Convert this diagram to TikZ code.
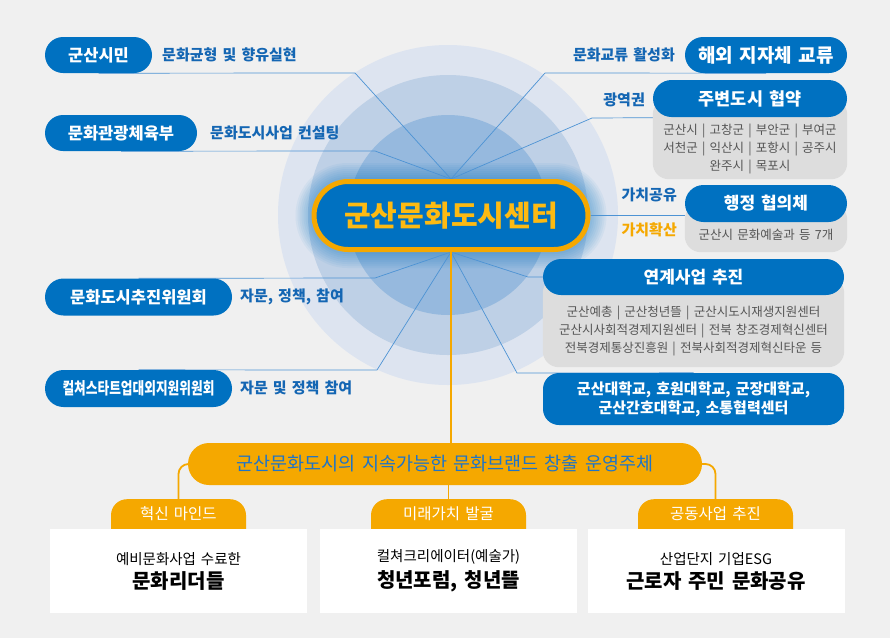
\documentclass[tikz,border=0pt]{standalone}
\usepackage{fontspec}
\setmainfont{Noto Sans CJK KR}[WordSpace=1.5]
\usetikzlibrary{shapes.misc, calc}
\definecolor{pageg}{HTML}{F0F0F0}
\definecolor{pillblue}{HTML}{0071C1}
\definecolor{brand}{HTML}{F5A800}
\definecolor{ctrtext}{HTML}{FDBA12}
\definecolor{lblblue}{HTML}{1466B3}
\definecolor{bannerblue}{HTML}{1E74C8}
\definecolor{linkblue}{HTML}{4D93D4}
\definecolor{ringA}{HTML}{DDE4F0}
\definecolor{ringB}{HTML}{BED0E6}
\definecolor{ringC}{HTML}{96B9DE}
\definecolor{greybg}{HTML}{DDDDDD}
\definecolor{greytext}{HTML}{555555}
\newcommand{\fsz}[2]{\fontsize{#1}{#2}\selectfont}
\pgfdeclarelayer{bg}
\pgfdeclarelayer{mid}
\pgfsetlayers{bg,mid,main}
\tikzset{
  pill/.style    ={rounded rectangle, fill=pillblue, text=white, font=\bfseries\fsz{16.5}{20}, minimum height=36pt, inner sep=0pt},
  lbl/.style     ={font=\bfseries\fsz{15}{18}, text=lblblue, inner sep=0pt},
  greytxt/.style ={font=\fsz{12.5}{18}, text=greytext, align=center, inner sep=0pt},
  link/.style    ={draw=linkblue, line width=0.7pt},              % center -> partner
  trunk/.style   ={draw=brand, line width=1.8pt},                 % center -> operators
  tabhead/.style ={rectangle, rounded corners=16pt, fill=brand, text=white, font=\fsz{15.5}{18}, inner sep=0pt, text height=20pt, text depth=26pt, anchor=north},
  card/.style    ={fill=white, minimum width=257pt, minimum height=84pt, align=center, inner sep=0pt},
}

\begin{document}
\begin{tikzpicture}[x=1pt, y=-1pt]
  \useasboundingbox (0,0) rectangle (890,638);

  % CENTER
  \node[rounded rectangle, fill=pillblue, draw=brand, line width=5pt, minimum width=274pt, minimum height=68pt,
        text=ctrtext, font=\bfseries\fsz{29}{34}, inner sep=0pt] (ccenter) at (451,215.5) {군산문화도시센터};

  % LEFT: citizens, ministry, committees
  \node[pill, minimum width=107pt] (simin) at (98.5,55) {군산시민};
  \node[lbl, anchor=west] (siminlbl) at (162,55) {문화균형 및 향유실현};
  \node[pill, minimum width=152pt] (mcst) at (121,133) {문화관광체육부};
  \node[lbl, anchor=west] (mcstlbl) at (210,133) {문화도시사업 컨설팅};
  \node[pill, minimum width=187pt, minimum height=37pt] (chujin) at (138.5,297) {문화도시추진위원회};
  \node[lbl, anchor=west] (chujinlbl) at (240,297) {자문, 정책, 참여};
  \node[pill, minimum width=187pt, minimum height=37pt] (culture) at (138.5,388.5) {\scalebox{0.77}[1]{컬쳐스타트업대외지원위원회}};
  \node[lbl, anchor=west] (culturelbl) at (240,388) {자문 및 정책 참여};

  % RIGHT: partner cities and organisations
  \node[pill, minimum width=162pt, font=\bfseries\fsz{19}{22}] (haeoe) at (766,55) {해외 지자체 교류};
  \node[lbl, anchor=east] (haeoelbl) at (675,55) {문화교류 활성화};
  \node[pill, minimum width=194pt, minimum height=37pt, font=\bfseries\fsz{17.5}{20}] (jubyeon) at (750,98.5) {주변도시 협약};
  \node[greytxt, minimum width=194pt, minimum height=60pt] (jblist) at (750,149)
    {군산시 | 고창군 | 부안군 | 부여군\\서천군 | 익산시 | 포항시 | 공주시\\완주시 | 목포시};
  \node[lbl, anchor=east] (jubyeonlbl) at (645,100) {광역권};
  \node[pill, minimum width=162pt, minimum height=37pt, font=\bfseries\fsz{17}{20}] (haengjeong) at (766,203.5) {행정 협의체};
  \node[greytxt, minimum width=162pt, minimum height=34pt] (hjlist) at (766,235) {군산시 문화예술과 등 7개};
  \node[lbl, anchor=east] (share) at (677,195) {가치공유};
  \node[lbl, anchor=east, text=brand] (spread) at (677,230) {가치확산};
  \node[pill, minimum width=301pt, font=\bfseries\fsz{17}{20}] (yeongye) at (693.5,277) {연계사업 추진};
  \node[greytxt, minimum width=301pt, minimum height=72pt] (yglist) at (693.5,331)
    {군산예총 | 군산청년뜰 | 군산시도시재생지원센터\\군산시사회적경제지원센터 | 전북 창조경제혁신센터\\전북경제통상진흥원 | 전북사회적경제혁신타운 등};
  \node[rectangle, rounded corners=16pt, fill=pillblue, text=white, font=\bfseries\fsz{15}{19}, align=center,
        minimum width=301pt, minimum height=52pt, inner sep=0pt] (daehak) at (693.5,399)
    {군산대학교, 호원대학교, 군장대학교,\\군산간호대학교, 소통협력센터};

  % BOTTOM: operators
  \node[rounded rectangle, fill=brand, minimum width=514pt, minimum height=42pt, inner sep=0pt,
        text=bannerblue, font=\fsz{18.5}{22}] (banner) at (445,464) {군산문화도시의 지속가능한 문화브랜드 창출 운영주체};
  \node[tabhead, minimum width=135pt] (tab1) at (178.5,499) {혁신 마인드};
  \node[tabhead, minimum width=155pt] (tab2) at (448.5,499) {미래가치 발굴};
  \node[tabhead, minimum width=155pt] (tab3) at (715.5,499) {공동사업 추진};
  \node[card] (card1) at (178.5,571) {\fsz{14.5}{18}예비문화사업 수료한\\[5pt]{\bfseries\fsz{20}{24}문화리더들}};
  \node[card] (card2) at (448.5,571) {\fsz{14.5}{18}컬쳐크리에이터(예술가)\\[5pt]{\bfseries\fsz{20}{24}청년포럼, 청년뜰}};
  \node[card] (card3) at (716,571) {\fsz{14.5}{18}산업단지 기업ESG\\[5pt]{\bfseries\fsz{20}{24}근로자 주민 문화공유}};

  \begin{pgfonlayer}{bg}
    \fill[pageg] (0,0) rectangle (890,638);
    \fill[ringA] (448,215) circle (170);
    \fill[ringB] (448,215) circle (140);
    \fill[ringC] (448,215) circle (100);
    % soft halo round the center
    \foreach \k in {16,14,...,2}
      \fill[pillblue, opacity=0.05, rounded corners=36pt+\k pt]
        ($(ccenter.west |- ccenter.north)+(-\k,-\k)$) rectangle ($(ccenter.east |- ccenter.south)+(\k,\k)$);
    \draw[link] (ccenter.north) -- (355,73) -- (simin.south);
    \draw[link] (ccenter.north) -- (375,151) -- (mcst.south);
    \draw[link] (ccenter.north) -- (545,73) -- (haeoe.south);
    \draw[link] (ccenter.north) -- (592,118) -- (jubyeon.south);
    \draw[link] (ccenter.east) -- (ccenter.east -| haengjeong.west);
    \draw[link] (ccenter.south) -- (528,277) -- (yeongye.west);
    \draw[link] (ccenter.south) -- (517,373) -- (daehak.north);
    \draw[link] (ccenter.south) -- (375,278) -- (chujin.north);
    \draw[link] (ccenter.south) -- (377,370) -- (culture.north);
    \draw[trunk] (ccenter.south) -- (ccenter.south |- banner.north);
    \draw[trunk] (tab2.north |- banner.south) -- (tab2.north);
    \draw[trunk, rounded corners=10pt] (banner.west) -| (tab1.north);
    \draw[trunk, rounded corners=10pt] (banner.east) -| (tab3.north);
  \end{pgfonlayer}

  \begin{pgfonlayer}{mid}
    \fill[greybg, rounded corners=16pt] (jubyeon.center -| jblist.west) rectangle (jblist.south east);
    \fill[greybg, rounded corners=16pt] (haengjeong.center -| hjlist.west) rectangle (hjlist.south east);
    \fill[greybg, rounded corners=16pt] (yeongye.center -| yglist.west) rectangle (yglist.south east);
  \end{pgfonlayer}
\end{tikzpicture}
\end{document}
